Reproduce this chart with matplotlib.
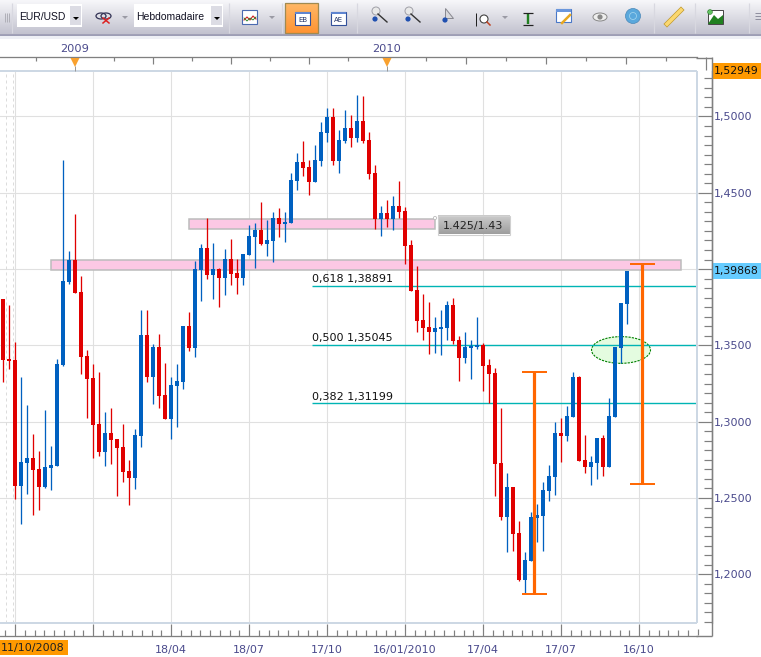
import numpy as np
import matplotlib
matplotlib.use("Agg")
import matplotlib.pyplot as plt
from matplotlib.patches import Rectangle, Ellipse, Circle, Polygon
from matplotlib.ticker import MultipleLocator, FixedLocator, FixedFormatter

opens = [1.3804,1.3411,1.3404,1.2581,1.2729,1.2762,1.2690,1.2572,1.2697,1.2710,
1.3372,1.3915,1.4060,1.3850,1.3430,1.3286,1.2985,1.2801,1.2926,1.2887,
1.2834,1.2677,1.2631,1.2906,1.3568,1.3293,1.3489,1.3175,1.3018,1.3234,
1.3260,1.3627,1.3483,1.3994,1.4138,1.3961,1.4001,1.3942,1.4066,1.3974,
1.3942,1.4092,1.4210,1.4256,1.4164,1.4184,1.4335,1.4295,1.4302,1.4577,
1.4702,1.4669,1.4571,1.4708,1.4892,1.4997,1.4708,1.4839,1.4925,1.4859,
1.4970,1.4846,1.4630,1.4328,1.4368,1.4328,1.4413,1.4381,1.4158,1.3863,
1.3666,1.3621,1.3588,1.3607,1.3614,1.3765,1.3535,1.3417,1.3483,1.3489,
1.3503,1.3372,1.3319,1.2729,1.2375,1.2572,1.2271,1.1963,1.2087,1.2369,
1.2382,1.2546,1.2638,1.2926,1.2906,1.3031,1.3293,1.2749,1.2703,1.2729,
1.2893,1.2703,1.3031,1.3483,1.3771]
closes = [1.3406,1.3398,1.2581,1.2734,1.2762,1.2683,1.2572,1.2703,1.2716,1.3378,
1.3922,1.4060,1.3843,1.3424,1.3280,1.2978,1.2801,1.2926,1.2880,1.2828,
1.2670,1.2631,1.2913,1.3568,1.3293,1.3489,1.3168,1.3018,1.3240,1.3267,
1.3627,1.3483,1.4001,1.4138,1.3961,1.4001,1.3942,1.4066,1.3968,1.3942,
1.4099,1.4217,1.4256,1.4164,1.4191,1.4335,1.4295,1.4309,1.4584,1.4702,
1.4663,1.4571,1.4715,1.4898,1.4997,1.4708,1.4846,1.4925,1.4859,1.4970,
1.4839,1.4623,1.4328,1.4368,1.4328,1.4413,1.4374,1.4151,1.3856,1.3660,
1.3614,1.3588,1.3614,1.3621,1.3765,1.3529,1.3417,1.3489,1.3496,1.3503,
1.3365,1.3312,1.2723,1.2375,1.2572,1.2264,1.1963,1.2094,1.2375,1.2388,
1.2552,1.2644,1.2926,1.2906,1.3037,1.3293,1.2742,1.2703,1.2736,1.2893,
1.2703,1.3037,1.3489,1.3778,1.3987]
highs = [1.3804,1.3765,1.3522,1.3293,1.3109,1.2919,1.2808,1.3077,1.2841,1.3411,
1.4715,1.4119,1.4361,1.3955,1.3470,1.3378,1.3326,1.3064,1.3090,1.2887,
1.2985,1.2749,1.2952,1.3732,1.3732,1.3509,1.3575,1.3385,1.3293,1.3378,
1.3627,1.3719,1.4053,1.4164,1.4335,1.4171,1.4007,1.4132,1.4197,1.4066,
1.4099,1.4289,1.4302,1.4440,1.4322,1.4374,1.4400,1.4374,1.4630,1.4761,
1.4839,1.4715,1.4813,1.4964,1.5056,1.5056,1.4911,1.5043,1.5010,1.5141,
1.5134,1.4898,1.4682,1.4413,1.4453,1.4479,1.4577,1.4407,1.4191,1.4020,
1.3837,1.3784,1.3686,1.3732,1.3791,1.3811,1.3562,1.3588,1.3535,1.3686,
1.3516,1.3411,1.3352,1.3090,1.2664,1.2572,1.2349,1.2146,1.2408,1.2461,
1.2605,1.2716,1.2998,1.3024,1.3103,1.3326,1.3299,1.2913,1.2775,1.2893,
1.2913,1.3155,1.3489,1.3778,1.3987]
lows = [1.3262,1.3347,1.2493,1.2332,1.2528,1.2391,1.2423,1.2565,1.2552,1.2710,
1.3365,1.3902,1.3843,1.3312,1.3024,1.2762,1.2775,1.2710,1.2723,1.2513,
1.2605,1.2454,1.2559,1.2834,1.3260,1.3116,1.3090,1.3018,1.2887,1.2965,
1.3214,1.3463,1.3424,1.3791,1.3935,1.3804,1.3752,1.3830,1.3896,1.3837,
1.3896,1.4092,1.4007,1.4158,1.4086,1.4047,1.4210,1.4178,1.4302,1.4518,
1.4610,1.4486,1.4571,1.4676,1.4833,1.4682,1.4630,1.4826,1.4800,1.4833,
1.4826,1.4590,1.4263,1.4217,1.4276,1.4256,1.4335,1.4033,1.3856,1.3588,
1.3535,1.3444,1.3450,1.3437,1.3535,1.3509,1.3267,1.3385,1.3280,1.3476,
1.3201,1.3122,1.2513,1.2356,1.2146,1.2153,1.1956,1.1877,1.2087,1.2212,
1.2153,1.2480,1.2520,1.2736,1.2873,1.3031,1.2742,1.2664,1.2585,1.2624,
1.2644,1.2703,1.3031,1.3385,1.3640]

date_ticks = [2, 15, 28, 41, 54, 67, 80, 93, 106]
date_labels = ["", "", "18/04", "18/07", "17/10", "16/01/2010", "17/04", "17/07", "16/10"]
price_ticks = [1.20, 1.25, 1.30, 1.35, 1.40, 1.45, 1.50]
price_labels = ["1,2000", "1,2500", "1,3000", "1,3500", "", "1,4500", "1,5000"]
year_ticks = [12, 25, 38, 51, 64, 77.2, 90.5, 103.8]
year_labels = ["2009", "", "", "", "2010", "", "", ""]
year_minor = [5.5, 18.5, 31.5, 44.5, 57.5, 70.5, 83.8, 97.2, 110.5]

fib_levels = [0.618, 0.500, 0.382]
fib_prices = [1.38891, 1.35045, 1.31199]
fib_start = 51.5
zones = [(1.4261, 1.4331, 31, 72), (1.3992, 1.4058, 8, 113)]
measures = [(88.55, 1.1871, 1.3328), (106.55, 1.2594, 1.4033)]

W, H = 761, 657
L, R, T, B = 0, 696.5, 71, 623
fig = plt.figure(figsize=(W/100, H/100), dpi=100, facecolor="white")
ax = fig.add_axes([L/W, 1-B/H, (R-L)/W, (B-T)/H])
ax.set_xlim(-0.5, 115.58)
ax.set_ylim(1.1681, 1.5298)

INK = "#4a4a8c"
AXC = "#808080"
px = 0.72
FS = 8.0

ax.set_axisbelow(True)
ax.grid(True, which="major", color="#e0e0e0", lw=1.0*px*1.1)
for xd in (0.55, 1.62):
    ax.axvline(xd, color="#dcdcdc", lw=px, ls=(0, (3, 3)), zorder=0.8)

# zones, ellipse, fibonacci
for lo, hi, x0, x1 in zones:
    ax.add_patch(Rectangle((x0, lo), x1-x0, hi-lo, fc="#fcc8e4", ec="#bcbcbc", lw=1.1, zorder=1.2))
ax.add_patch(Ellipse((103, 1.347), 9.83, 0.0175, fc="#e4fce0", ec="#008000", lw=0.8, ls=(0, (2, 1)), zorder=1.4))
for lev, pr in zip(fib_levels, fib_prices):
    ax.plot([fib_start, 115.58], [pr, pr], color="#00b4b4", lw=1.0, zorder=1.6, solid_capstyle="butt")
    ax.text(fib_start, pr+0.0012, f"{lev:.3f} {pr:.5f}".replace(".", ","), fontsize=8, color="#111111", va="bottom", ha="left", zorder=5)

# candles
o, c, h, l = map(np.array, (opens, closes, highs, lows))
idx = np.arange(len(o))
colors = ["#0060c0" if ci >= oi else "#e00000" for oi, ci in zip(o, c)]
ax.vlines(idx, l, h, colors=colors, lw=px*1.3, zorder=3, snap=True)
ax.bar(idx, np.abs(c-o), bottom=np.minimum(o, c), width=4/6, color=colors, lw=0, zorder=3.2)

# orange measures
for xm, lo, hi in measures:
    ax.plot([xm, xm], [lo, hi], color="#ff6600", lw=2.3, zorder=4, solid_capstyle="butt")
    for y in (lo, hi):
        ax.plot([xm-2.05, xm+2.05], [y, y], color="#ff6600", lw=1.4, zorder=4, solid_capstyle="butt")

# frame + axes
for s in ("left", "top"):
    ax.spines[s].set_visible(False)
ax.spines["right"].set_position(("outward", 15*px))
ax.spines["bottom"].set_position(("outward", 12.5*px))
for s in ("right", "bottom"):
    ax.spines[s].set_color(AXC); ax.spines[s].set_linewidth(px*1.3)

ax.yaxis.tick_right()
ax.yaxis.set_major_locator(FixedLocator(price_ticks))
ax.yaxis.set_major_formatter(FixedFormatter(price_labels))
ax.yaxis.set_minor_locator(MultipleLocator(0.00625))
ax.tick_params(axis="y", which="major", direction="in", length=14*px, width=px*1.2, color=AXC, labelsize=FS, labelcolor=INK, pad=2)
ax.tick_params(axis="y", which="minor", direction="in", length=8*px, width=px*1.2, color=AXC)

ax.xaxis.set_major_locator(FixedLocator(date_ticks))
ax.set_xticklabels(date_labels)
ax.tick_params(axis="x", which="major", direction="in", length=12*px, width=px*1.2, color=AXC, labelsize=FS, labelcolor=INK, pad=6.5)
ax.tick_params(axis="x", which="minor", direction="in", length=6*px, width=px*1.2, color=AXC)
ax.xaxis.set_minor_locator(FixedLocator(np.arange(2-13/8, 115.5, 13/8)))

top = ax.secondary_xaxis(1+(T-57.5)/(B-T))
top.xaxis.set_major_locator(FixedLocator(year_ticks))
top.set_xticklabels(year_labels)
top.xaxis.set_minor_locator(FixedLocator(year_minor))
top.tick_params(axis="x", which="major", direction="in", length=7*px, width=px*1.2, color=AXC, labelsize=8.2, labelcolor=INK, pad=2.5)
top.tick_params(axis="x", which="minor", direction="in", length=4*px, width=px*1.2, color=AXC)
top.spines["top"].set_color(AXC); top.spines["top"].set_linewidth(px*1.3)
for s in ("left", "right", "bottom"):
    top.spines[s].set_visible(False)

# overlay chrome in pixel space
ov = fig.add_axes([0, 0, 1, 1], zorder=10)
ov.patch.set_visible(False)
ov.axis("off")

def rect(x0, y0, x1, y1, **k):
    k.setdefault("lw", 0)
    p = Rectangle((x0, y0), x1-x0, y1-y0, **k); ov.add_patch(p); return p
def line(xs, ys, color=AXC, lw=1.0, **k):
    ov.plot(xs, ys, color=color, lw=lw*px, solid_capstyle="butt", **k)

# toolbar gradient
grad = np.linspace(0, 1, 64)[:, None]
c0, c1 = np.array([0.97, 0.97, 0.98]), np.array([0.76, 0.76, 0.81])
img = (c0[None, None, :]*(1-grad[..., None]) + c1[None, None, :]*grad[..., None])
ov.imshow(img, extent=(0, W, 34, 0), aspect="auto", zorder=0)
line([0, W], [34.5, 34.5], color="#8a8aa6", lw=1.6)
rect(0, 35.3, W, 39, fc="#eef0f5")

# plot frame
line([0, R], [71, 71], color="#cdd8e4", lw=2.0)
line([R, R], [71, 623], color="#cdd8e4", lw=2.0)
line([0, R], [623, 623], color="#cdd8e4", lw=2.0)
# axis extensions
line([711.7, 711.7], [57, 635.5], lw=1.4)
line([696, 712], [635.5, 635.5], lw=1.4)
line([697.7, 697.7], [629, 635], lw=1.2)
line([705.5, 705.5], [57, 70], lw=1.2)
line([696, 712], [57.5, 57.5], lw=1.4)
# year markers
for xm in (75, 387):
    ov.add_patch(Polygon([(xm-4.5, 58), (xm+4.5, 58), (xm, 67)], fc="#f9a12e", lw=0))
    line([xm, xm], [66, 71], color="#999999", lw=1)

# price flags
rect(712, 63, 761, 79, fc="#ff9900")
ov.text(714, 71.3, "1,52949", fontsize=7.8, color="#111111", va="center", ha="left")
rect(712, 263, 761, 279, fc="#66ccff")
ov.text(714, 271.3, "1,39868", fontsize=7.8, color="#111111", va="center", ha="left")
rect(0, 640, 68, 655, fc="#ff9900")
ov.text(1, 648.3, "11/10/2008", fontsize=8.0, color="#222222", va="center", ha="left")

# zone label
g2 = np.linspace(0.80, 0.62, 32)[:, None]
ov.imshow(np.dstack([g2, g2, g2]), extent=(438, 509.5, 234.5, 216), aspect="auto", zorder=2)
rect(438, 216, 509.5, 234.5, fc="none", ec="#d0d0d0", lw=0.8, zorder=3)
ov.text(473.5, 225.5, "1.425/1.43", fontsize=8, color="#222222", va="center", ha="center", zorder=4)
ov.add_patch(Circle((435, 218), 1.6, fc="white", ec="#bbbbbb", lw=0.6, zorder=4))

# toolbar items
TF = "Liberation Sans"
for xs in (12, 228.5, 282, 357, 654, 695, 749):
    line([xs, xs], [3, 33], color="#d8d8e0", lw=1.2)
for xs in (4.5, 6.5, 8.5):
    line([xs, xs], [13, 22], color="#b0b0b8", lw=1)
for x0, x1, xb, label in ((17, 82, 70, "EUR/USD"), (134, 223, 211, "Hebdomadaire")):
    rect(x0, 4, x1, 27, fc="white")
    rect(xb, 6, x1-1, 25, fc="#dcdce4")
    ov.add_patch(Polygon([(xb+3, 17), (xb+9, 17), (xb+6, 20)], fc="black", lw=0))
    ov.text(x0+2.5, 17, label, fontsize=7.5, family=TF, color="#111122", va="center", ha="left")
for xt in (125, 272, 505):
    ov.add_patch(Polygon([(xt-3, 16), (xt+3, 16), (xt, 19)], fc="#9a9aa4", lw=0))
# active button
gb = np.linspace(0, 1, 32)[:, None]
ca, cb = np.array([1.0, 0.72, 0.40]), np.array([1.0, 0.58, 0.20])
ov.imshow(ca[None, None, :]*(1-gb[..., None]) + cb[None, None, :]*gb[..., None], extent=(285, 318, 33, 3), aspect="auto", zorder=1)
rect(285, 3, 318, 33, fc="none", ec="#a08a50", lw=0.9, zorder=2)
for x0, txt in ((295, "EB"), (331, "AE")):
    rect(x0, 11.5, x0+15, 25, fc="white", ec="#33519a", lw=0.8, zorder=3)
    rect(x0, 11.5, x0+15, 14, fc="#5f85d0", zorder=3)
    ov.text(x0+7.5, 19.7, txt, fontsize=5, color="#223366", ha="center", va="center", zorder=4)
# line-chart icon
rect(242, 10, 257, 24, fc="white", ec="#4a6ab0", lw=0.8, zorder=3)
ov.plot([244, 247, 250, 253, 256], [20, 17, 20, 16, 19], color="#d02020", lw=0.8, zorder=4)
ov.plot([244, 247, 250, 253, 256], [18, 21, 18, 20, 17], color="#208020", lw=0.6, zorder=4)
# link-with-cross icon
ov.add_patch(Ellipse((101, 16), 10, 6, fc="none", ec="#333355", lw=0.9))
ov.add_patch(Ellipse((106, 16), 10, 6, fc="none", ec="#333355", lw=0.9))
ov.plot([103, 109], [18, 23], color="#dd2222", lw=1.1)
ov.plot([109, 103], [18, 23], color="#dd2222", lw=1.1)
# magnifiers etc.
for xc, sign in ((377, "#2050b0"), (410, "#2050b0")):
    ov.add_patch(Circle((xc-1, 11), 4, fc="#e8e8e8", ec="#a0a0a8", lw=0.7))
    ov.add_patch(Circle((xc-2, 19), 2.6, fc=sign, lw=0))
    ov.plot([xc+1, xc+10], [14, 22], color="#333333", lw=1)
ov.add_patch(Polygon([(445, 8), (445, 18), (453, 18)], fc="#d8d8dc", ec="#888890", lw=0.7))
ov.add_patch(Circle((445, 20), 2.6, fc="#2050b0", lw=0))
line([476, 476], [13, 26], color="#222222", lw=1)
ov.add_patch(Circle((484, 19), 4, fc="#ffffff", ec="#444444", lw=0.8))
ov.plot([487, 490], [22, 25], color="#c04020", lw=1.1)
line([528, 528], [13, 24], color="#208020", lw=2.4)
line([523, 533], [12.5, 12.5], color="#222222", lw=1.2)
line([523, 533], [24.5, 24.5], color="#222222", lw=1.2)
rect(556, 9, 571, 22, fc="white", ec="#4a78c8", lw=0.8)
rect(556, 9, 571, 12, fc="#6a96dc")
ov.plot([562, 570], [23, 15], color="#e8a820", lw=1.8)
ov.add_patch(Ellipse((600, 17), 14, 8, fc="#eeeeee", ec="#888888", lw=0.7))
ov.add_patch(Circle((600, 17), 2.6, fc="#888888", lw=0))
ov.add_patch(Circle((633, 16), 7.5, fc="#5aa8dc", ec="#4a88b8", lw=0.5))
ov.add_patch(Circle((633, 16), 3.5, fc="none", ec="#a8d8f0", lw=0.5))
ov.plot([667, 681], [24, 10], color="#c09a30", lw=3.6)
ov.plot([667, 681], [24, 10], color="#fbd870", lw=2.6)
rect(708, 10, 723, 24, fc="white", ec="#444444", lw=0.7)
ov.add_patch(Polygon([(708, 24), (714, 15), (718, 19), (723, 15), (723, 24)], fc="#208020", lw=0))
ov.add_patch(Circle((710, 12), 2.4, fc="#60c060", ec="#308030", lw=0.4))
for yy in (13, 16, 19):
    line([755, 761], [yy, yy], color="#9090a0", lw=1)

ov.set_xlim(0, W)
ov.set_ylim(H, 0)

fig.savefig("out.png", dpi=100, facecolor="white")
